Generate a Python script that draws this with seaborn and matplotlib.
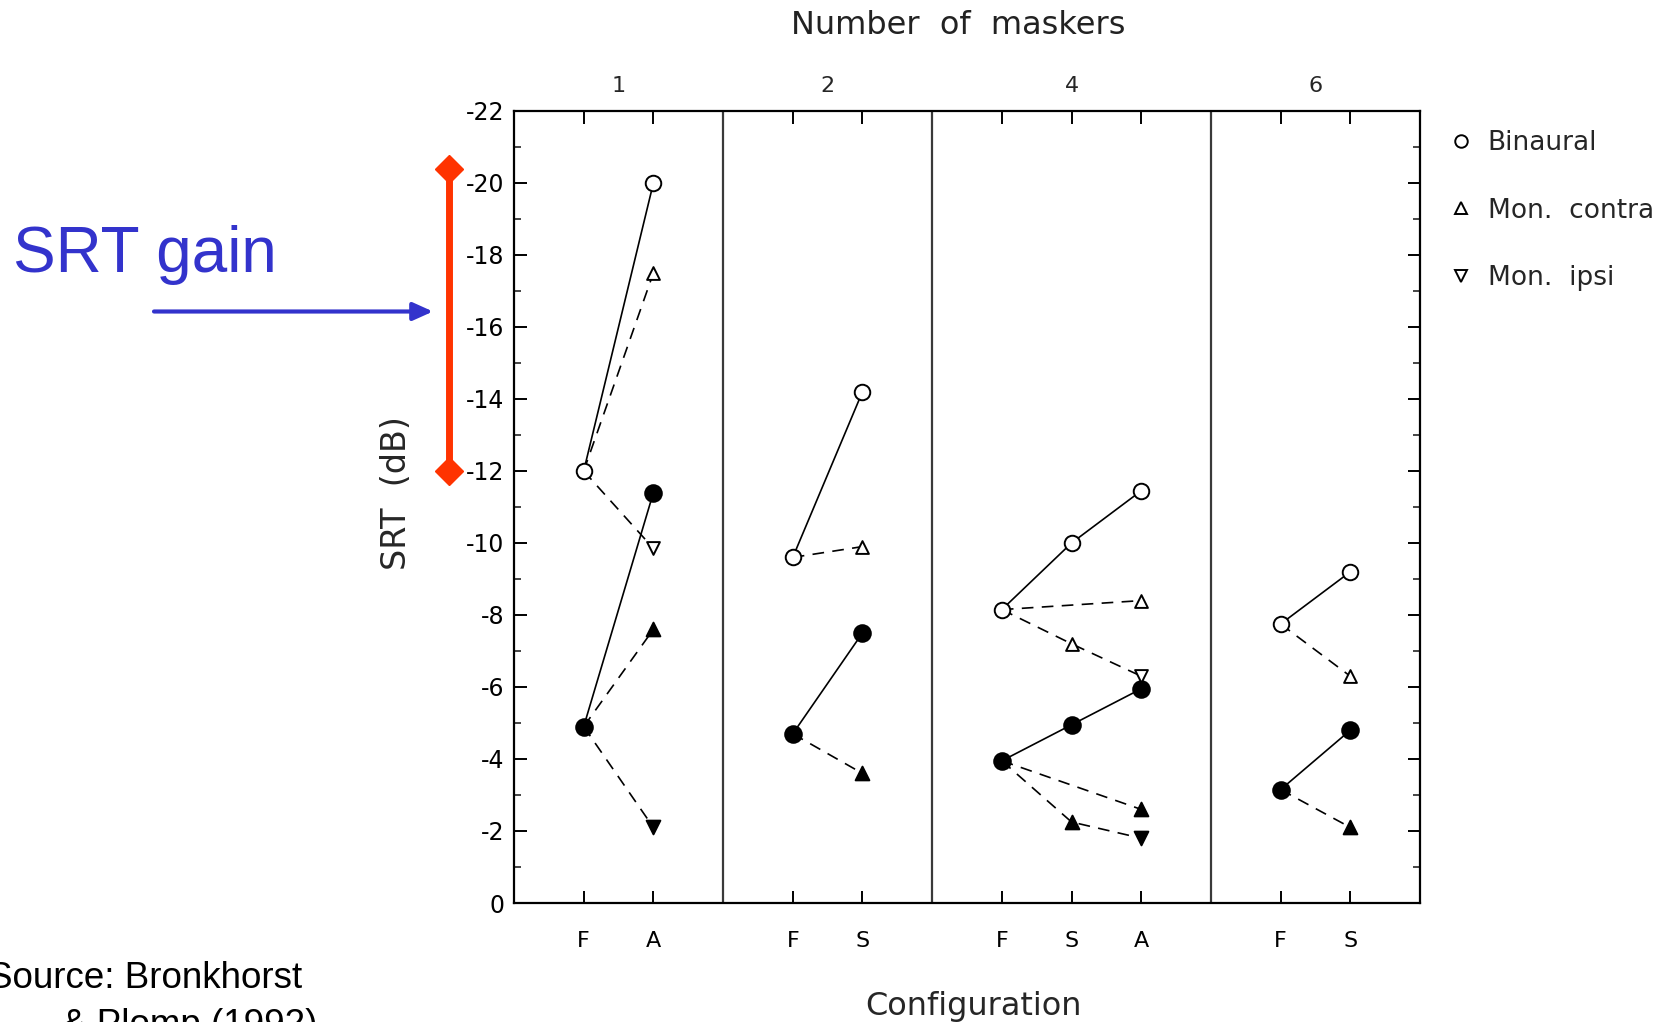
import numpy as np
import pandas as pd
import matplotlib
matplotlib.use("Agg")
import matplotlib.pyplot as plt
import matplotlib.transforms as mtransforms
from matplotlib.lines import Line2D
import seaborn as sns

# ---------------- data ----------------
panels = ["1", "2", "4", "6"]                      # number of maskers
panel_configs = [["F", "A"], ["F", "S"], ["F", "S", "A"], ["F", "S"]]

binaural_open   = [[-12.0, -20.0], [-9.6, -14.2], [-8.15, -10.0, -11.45], [-7.75, -9.2]]
contra_open     = [[-12.0, -17.5], [-9.6, -9.9],  [-8.15, None, -8.4],    [-7.75, -6.3]]
ipsi_open       = [[-12.0, -9.85], None,          [-8.15, -7.2, -6.3],    None]
binaural_filled = [[-4.9, -11.4],  [-4.7, -7.5],  [-3.95, -4.95, -5.95],  [-3.15, -4.8]]
contra_filled   = [[-4.9, -7.6],   [-4.7, -3.6],  [-3.95, None, -2.6],    [-3.15, -2.1]]
ipsi_filled     = [[-4.9, -2.1],   None,          [-3.95, -2.25, -1.8],   None]

legend_labels = ["Binaural", "Mon.  contra", "Mon.  ipsi"]
gain_low, gain_high = -12.0, -20.4   # SRT gain bracket (dB)

# ---------------- build table ----------------
widths = [len(c) + 1 for c in panel_configs]
offsets = np.concatenate([[0], np.cumsum(widths)[:-1]])
series = [
    ("binaural", "open", binaural_open), ("contra", "open", contra_open),
    ("ipsi", "open", ipsi_open), ("binaural", "filled", binaural_filled),
    ("contra", "filled", contra_filled), ("ipsi", "filled", ipsi_filled),
]
base_marker = {"binaural": "o", "contra": "^", "ipsi": "v"}
rows = []
for name, fill, vals in series:
    for p, pv in enumerate(vals):
        if pv is None:
            continue
        for i, v in enumerate(pv):
            if v is None:
                continue
            cfg = panel_configs[p][i]
            if name != "binaural" and cfg == "F":
                mk = None
            elif name == "ipsi" and cfg == "S":
                mk = "^"
            else:
                mk = base_marker[name]
            rows.append(dict(series=name, fill=fill, panel=panels[p], config=cfg,
                             x=offsets[p] + i + 1, y=v, marker=mk,
                             line_id=f"{name}-{fill}-{p}",
                             style="solid" if name == "binaural" else "dashed"))
df = pd.DataFrame(rows)

# ---------------- figure ----------------
sns.set_theme(style="white")
plt.rcParams["font.family"] = ["DejaVu Sans"]
plt.rcParams["axes.unicode_minus"] = False

fig = plt.figure(figsize=(16.76, 10.22), dpi=100)
ax = fig.add_axes([514 / 1676, 1 - 903 / 1022, 906 / 1676, 792 / 1022])

sns.lineplot(data=df, x="x", y="y", units="line_id", estimator=None, style="style",
             dashes={"solid": "", "dashed": (7, 5)}, color="black", sort=False,
             legend=False, linewidth=1.2, ax=ax, zorder=2)

msize = {"o": 125, "^": 85, "v": 85}
for (fill, mk), sub in df.dropna(subset=["marker"]).groupby(["fill", "marker"]):
    sns.scatterplot(data=sub, x="x", y="y", marker=mk, s=msize[mk] * (1.15 if fill == "filled" else 1.0),
                    color="white" if fill == "open" else "black", edgecolor="black",
                    linewidth=1.4, ax=ax, zorder=3, legend=False)

total = int(np.sum(widths))
ax.set_xlim(0, total)
ax.set_ylim(0, -22)
for b in np.cumsum(widths)[:-1]:
    ax.axvline(b, color="#3a3a3a", lw=1.6, zorder=1)

for s in ax.spines.values():
    s.set_color("black")
    s.set_linewidth(1.6)
    s.set_visible(True)

xt = df.drop_duplicates(["panel", "config"]).sort_values("x")
ax.set_xticks(xt["x"], xt["config"])
ax.set_yticks(np.arange(0, -23, -2))
ax.set_yticks(np.arange(0, -23, -1), minor=True)
ax.tick_params(axis="x", which="major", direction="in", length=9, width=1.4,
               top=True, bottom=True, labelsize=16, pad=20, colors="black")
ax.tick_params(axis="y", which="major", direction="in", length=9, width=1.4,
               left=True, right=True, labelsize=17, pad=7, colors="black")
ax.tick_params(axis="y", which="minor", direction="in", length=5, width=1.2,
               left=True, right=True)
ax.set_xlabel("Configuration", fontsize=23)
ax.xaxis.set_label_coords(0.507, -0.111)
ax.set_ylabel("SRT  (dB)", fontsize=24)
ax.yaxis.set_label_coords(-0.112, 0.517)

sec = ax.secondary_xaxis("top")
centers = offsets + np.array(widths) / 2
sec.set_xticks(centers, panels)
sec.tick_params(length=0, labelsize=16, pad=11)
sec.spines["top"].set_visible(False)
fig.text(958 / 1676, 1 - 26 / 1022, "Number  of  maskers", fontsize=23,
         ha="center", va="center", color="#222222")

# legend
handles = [Line2D([], [], ls="", marker=m, mfc="white", mec="black", mew=1.4, ms=s)
           for m, s in zip(["o", "^", "v"], [9, 8, 8])]
fig.legend(handles, legend_labels, loc="upper left", bbox_to_anchor=(1448 / 1676, 1 - 130 / 1022),
           frameon=False, fontsize=19, handletextpad=0.5, labelspacing=1.58,
           handlelength=1.0, borderpad=0, borderaxespad=0)

# SRT gain annotation
trans = mtransforms.blended_transform_factory(ax.transAxes, ax.transData)
gx = (449 - 514) / 906
ax.plot([gx, gx], [gain_low, gain_high], color="#FF3300", lw=5, transform=trans,
        clip_on=False, zorder=5, solid_capstyle="butt")
ax.plot([gx, gx], [gain_low, gain_high], ls="", marker="D", ms=14, color="#FF3300",
        transform=trans, clip_on=False, zorder=6)
fig.text(13 / 1676, 1 - 272 / 1022, "SRT gain", color="#3333CC", fontsize=46,
         family=["Liberation Sans", "DejaVu Sans"], va="baseline", ha="left")
ax.annotate("", xy=(433 / 1676, 1 - 311.5 / 1022), xytext=(154 / 1676, 1 - 311.5 / 1022),
            xycoords="figure fraction", textcoords="figure fraction",
            arrowprops=dict(arrowstyle="-|>,head_length=1.0,head_width=0.45",
                            color="#3333CC", lw=3, shrinkA=0, shrinkB=0))

fig.text(-12 / 1676, 1 - 988 / 1022, "Source: Bronkhorst", fontsize=26.5,
         family=["Liberation Sans", "DejaVu Sans"], va="baseline", ha="left", color="black")
fig.text(62 / 1676, 1 - 1035 / 1022, "& Plomp (1992)", fontsize=26.5,
         family=["Liberation Sans", "DejaVu Sans"], va="baseline", ha="left", color="black")

fig.savefig("out.png", dpi=100)
